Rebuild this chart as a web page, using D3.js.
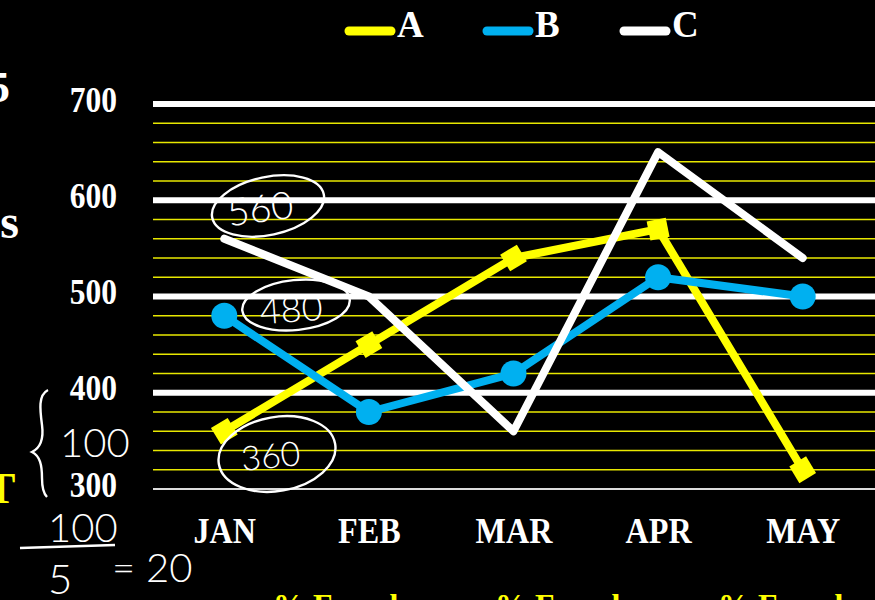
<!DOCTYPE html>
<html><head><meta charset="utf-8">
<script src="https://cdn.jsdelivr.net/npm/d3@7"></script>
<style>html,body{margin:0;padding:0;background:#000;overflow:hidden}</style>
</head><body>
<svg id="chart" width="875" height="600"></svg>
<script>
const months = ["JAN","FEB","MAR","APR","MAY"];
const seriesA = [360, 450, 540, 570, 320];
const seriesB = [480, 380, 420, 520, 500];
const seriesC = [560, 500, 360, 650, 540];
const seriesNames = ["A","B","C"];
const majorTicks = [300, 400, 500, 600, 700];
const minorTicks = [320,340,360,380,420,440,460,480,520,540,560,580,620,640,660,680];
const bottomLabels = ["% Female","% Female","% Female"];

const svg = d3.select("#chart");
svg.append("rect").attr("width",875).attr("height",600).attr("fill","#000");
const serif = "'Liberation Serif','Times New Roman',serif";

const x = d3.scalePoint().domain(months).range([152, 875]).padding(0.5);
const y = d3.scaleLinear().domain([300, 700]).range([489, 104]);

// minor grid
svg.append("g").selectAll("line").data(minorTicks).join("line")
  .attr("x1",153).attr("x2",875).attr("y1",d=>y(d)).attr("y2",d=>y(d))
  .attr("stroke","#e8e800").attr("stroke-width",1.6);
// major grid
svg.append("g").selectAll("line").data(majorTicks).join("line")
  .attr("x1",153).attr("x2",875).attr("y1",d=>y(d)).attr("y2",d=>y(d))
  .attr("stroke",d=>d===300?"#dcdcdc":"#fff").attr("stroke-width",d=>d===300?2:6);

// y axis labels (slightly condensed, tall serif)
const yAxis = d3.axisLeft(y).tickValues(majorTicks).tickSize(0).tickPadding(0);
const gy = svg.append("g").attr("transform","translate(117,0)").call(yAxis);
gy.select(".domain").remove();
gy.selectAll("text").attr("fill","#fff").attr("font-family",serif).attr("font-weight","bold")
  .attr("font-size",35).attr("dy",null).attr("x",0).attr("dominant-baseline","alphabetic")
  .attr("transform","translate(0,7) scale(0.9,1)");

// x axis labels
const xAxis = d3.axisBottom(x).tickSize(0).tickPadding(0);
const gx = svg.append("g").attr("transform","translate(0,543)").call(xAxis);
gx.select(".domain").remove();
gx.selectAll("text").attr("fill","#fff").attr("font-family",serif).attr("font-weight","bold")
  .attr("font-size",35).attr("dy",null).attr("y",0).attr("dominant-baseline","alphabetic")
  .attr("transform","scale(0.92,1)");

const line = d3.line().x((d,i)=>x(months[i])).y(d=>y(d));
const colors = {A:"#ffff00", B:"#00b0f0", C:"#ffffff"};

// Series A
svg.append("path").datum(seriesA).attr("d",line).attr("fill","none")
  .attr("stroke",colors.A).attr("stroke-width",8).attr("stroke-linejoin","round");
svg.append("g").selectAll("path").data(seriesA).join("path")
  .attr("d",d3.symbol(d3.symbolSquare,380))
  .attr("fill",colors.A)
  .attr("transform",(d,i)=>{
    const j = i===0?1:i; const k = i===0?0:i-1;
    const a = Math.atan2(y(seriesA[j])-y(seriesA[k]), x(months[j])-x(months[k]))*180/Math.PI;
    return `translate(${x(months[i])},${y(d)}) rotate(${a})`;
  });

// Series B
svg.append("path").datum(seriesB).attr("d",line).attr("fill","none")
  .attr("stroke",colors.B).attr("stroke-width",8).attr("stroke-linejoin","round");
svg.append("g").selectAll("circle").data(seriesB).join("circle")
  .attr("cx",(d,i)=>x(months[i])).attr("cy",d=>y(d)).attr("r",13).attr("fill",colors.B);

// Series C
svg.append("path").datum(seriesC).attr("d",line).attr("fill","none")
  .attr("stroke",colors.C).attr("stroke-width",8).attr("stroke-linejoin","round").attr("stroke-linecap","round");

// legend
const legX = [345, 483, 620];
const lg = svg.append("g");
seriesNames.forEach((n,i)=>{
  lg.append("line").attr("x1",legX[i]+4).attr("x2",legX[i]+46).attr("y1",31).attr("y2",31)
    .attr("stroke",colors[n]).attr("stroke-width",9).attr("stroke-linecap","round");
  lg.append("text").attr("x",legX[i]+52).attr("y",37).text(n)
    .attr("fill","#fff").attr("font-family",serif).attr("font-weight","bold").attr("font-size",37);
});

// cropped side texts
svg.append("text").attr("x",10).attr("y",102).attr("text-anchor","end").text("5")
  .attr("fill","#fff").attr("font-family",serif).attr("font-weight","bold").attr("font-size",45);
svg.append("text").attr("x",19).attr("y",238).attr("text-anchor","end").text("s")
  .attr("fill","#fff").attr("font-family",serif).attr("font-weight","bold").attr("font-size",48);
svg.append("text").attr("x",-14).attr("y",503).text("T")
  .attr("fill","#ffff00").attr("font-family",serif).attr("font-weight","bold").attr("font-size",44);

// bottom cropped labels
const bx = [273, 495, 718];
svg.append("g").selectAll("text").data(bottomLabels).join("text")
  .attr("x",(d,i)=>bx[i]).attr("y",616).text(d=>d)
  .attr("fill","#ffff00").attr("font-family",serif).attr("font-weight","bold").attr("font-size",32);

// handwritten annotations
const ann = svg.append("g").attr("fill","none").attr("stroke","#fff").attr("stroke-width",2.4);
ann.append("ellipse").attr("cx",268).attr("cy",206).attr("rx",57).attr("ry",29).attr("transform","rotate(-12,268,206)");
ann.append("ellipse").attr("cx",296).attr("cy",305).attr("rx",54).attr("ry",25).attr("transform","rotate(-6,296,305)");
ann.append("ellipse").attr("cx",277).attr("cy",454).attr("rx",59).attr("ry",37).attr("transform","rotate(-10,277,454)");
ann.append("path").attr("d","M48,390 C38,395 40,410 42,425 C44,440 40,448 32,452 C40,456 42,465 42,478 C42,488 44,494 47,497");
ann.append("line").attr("x1",20).attr("x2",115).attr("y1",548).attr("y2",545);
const hw = svg.append("g").attr("fill","#fff").attr("font-family","Lato, 'Open Sans', sans-serif").attr("font-weight",300);
hw.append("text").attr("x",262).attr("y",222).attr("text-anchor","middle").attr("font-size",38).attr("transform","rotate(-8,262,222)").text("560");
hw.append("text").attr("x",292).attr("y",322).attr("text-anchor","middle").attr("font-size",36).attr("transform","rotate(-4,292,322)").text("480");
hw.append("text").attr("x",272).attr("y",468).attr("text-anchor","middle").attr("font-size",34).attr("transform","rotate(-6,272,468)").text("360");
hw.append("text").attr("x",60).attr("y",457).attr("font-size",40).text("100");
hw.append("text").attr("x",48).attr("y",542).attr("font-size",40).text("100");
hw.append("text").attr("x",48).attr("y",594).attr("font-size",42).text("5");
hw.append("text").attr("x",112).attr("y",582).attr("font-size",40).text("= 20");
</script>
</body></html>
